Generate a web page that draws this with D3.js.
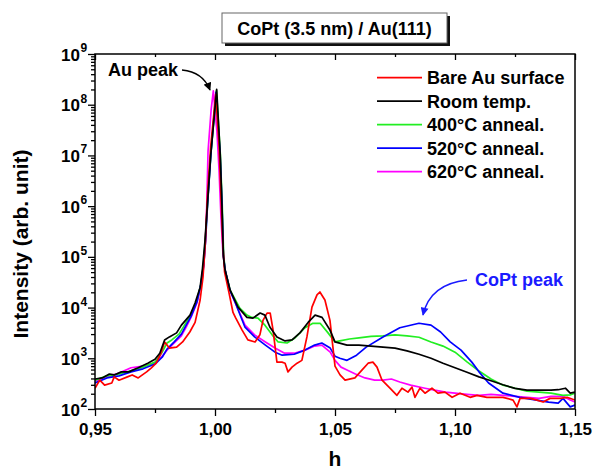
<!DOCTYPE html>
<html lang="en">
<head>
<meta charset="utf-8" />
<title>CoPt (3.5 nm) / Au(111)</title>
<script src="https://d3js.org/d3.v7.min.js"></script>
<style>
  body { margin: 0; background: #fff; }
  text { font-family: "Liberation Sans", Arial, sans-serif; font-weight: bold; fill: #000; }
  .curve { fill: none; stroke-width: 1.7; stroke-linejoin: round; }
  .axis path.domain { display: none; }
  .axis line { stroke: #000; stroke-width: 1.3; }
</style>
</head>
<body>
<svg width="595" height="473"></svg>
<script>
// ---- data: [h, intensity] ----
const bareAu = [
  [0.950,257],[0.952,370],[0.954,295],[0.957,325],[0.958,430],[0.960,370],[0.9635,430],[0.9655,470],
  [0.968,410],[0.9715,540],[0.9735,650],[0.9755,800],[0.9775,1260],[0.979,2100],[0.981,1590],[0.984,1660],
  [0.9865,2100],[0.9895,3300],[0.9917,5100],[0.9938,14100],[0.9950,40000],[0.9960,2e5],[0.9968,1.5e6],
  [0.9982,1.5e7],[1.0003,1.6e8],[1.0017,1.5e7],[1.0025,1.5e6],[1.0032,2e5],[1.0040,5e4],[1.0058,20000],
  [1.0075,8000],[1.0085,6400],[1.0113,3600],[1.0137,2300],[1.0167,2100],[1.0187,2900],[1.0200,5600],
  [1.0217,7800],[1.0230,7800],[1.0242,3600],[1.0258,840],[1.0279,840],[1.0292,800],[1.0304,540],
  [1.0321,670],[1.0342,800],[1.0362,910],[1.0383,2640],[1.0404,10200],[1.0425,17800],[1.0437,20300],
  [1.0458,14100],[1.0479,5600],[1.0500,700],[1.0521,470],[1.0542,370],[1.0583,410],[1.0613,590],
  [1.0638,800],[1.0658,840],[1.0675,670],[1.0696,370],[1.0729,257],[1.0758,186],[1.0779,257],
  [1.0804,215],[1.0821,270],[1.0833,170],[1.0854,257],[1.0875,205],[1.0904,257],[1.0929,205],
  [1.0958,215],[1.0988,170],[1.1021,205],[1.1063,170],[1.1092,186],[1.1133,170],[1.1200,170],
  [1.1242,150],[1.1258,110],[1.1271,162],[1.1313,162],[1.1342,150],[1.1367,137],[1.1396,162],
  [1.1438,162],[1.1467,170],[1.1500,150]
];

const roomTemp = [
  [0.950,390],[0.953,410],[0.956,490],[0.958,470],[0.961,540],[0.964,540],[0.968,650],[0.972,800],
  [0.975,955],[0.977,1260],[0.979,2300],[0.981,2640],[0.984,3170],[0.986,4500],[0.9896,7100],
  [0.9917,12300],[0.9938,25000],[0.9948,60000],[0.9958,2e5],[0.9968,1e6],[0.9982,1e7],[1.0007,2e8],
  [1.0022,1e7],[1.0029,1e6],[1.0035,1e5],[1.0042,5.5e4],[1.0063,2.2e4],[1.0096,10200],[1.0133,6400],
  [1.0158,6200],[1.0188,7800],[1.0208,7100],[1.0229,4100],[1.0258,2640],[1.0292,2200],[1.0321,2300],
  [1.0354,3170],[1.0388,5100],[1.0417,7100],[1.0446,6400],[1.0479,3600],[1.0500,2100],[1.055,1820],
  [1.060,1820],[1.065,1740],[1.070,1660],[1.075,1590],[1.080,1400],[1.085,1200],[1.090,1000],
  [1.095,800],[1.100,650],[1.105,530],[1.110,430],[1.115,360],[1.120,300],[1.125,255],[1.130,235],
  [1.135,235],[1.140,235],[1.143,240],[1.146,257],[1.148,205],[1.150,215]
];

const anneal400 = [
  [0.950,370],[0.955,450],[0.960,490],[0.965,565],[0.970,670],[0.975,840],[0.978,1320],[0.980,2000],
  [0.982,2300],[0.985,3000],[0.988,5100],[0.9905,8000],[0.9925,14000],[0.9942,30000],[0.9952,70000],
  [0.9960,2.2e5],[0.9969,1.1e6],[0.9983,1.1e7],[1.0006,1.9e8],[1.0022,1.1e7],[1.0030,1.1e6],
  [1.0036,1.1e5],[1.0042,5.5e4],[1.0063,22100],[1.0104,9600],[1.0133,7100],[1.0154,6400],
  [1.0179,6200],[1.0208,4500],[1.0238,2900],[1.0263,2100],[1.0300,2000],[1.0333,2520],[1.0375,4000],
  [1.0408,4900],[1.0438,4900],[1.0471,3170],[1.0500,2100],[1.052,2200],[1.056,2400],[1.060,2520],
  [1.065,2700],[1.070,2770],[1.075,2900],[1.080,2770],[1.085,2600],[1.090,2100],[1.095,1740],
  [1.100,1320],[1.105,850],[1.110,560],[1.115,390],[1.120,295],[1.125,257],[1.130,225],[1.135,215],
  [1.140,205],[1.145,186],[1.148,190],[1.150,205]
];

const anneal520 = [
  [0.950,325],[0.955,410],[0.960,450],[0.965,540],[0.970,620],[0.975,770],[0.978,1050],[0.980,1520],
  [0.983,2100],[0.986,3000],[0.988,4500],[0.990,6700],[0.9925,13000],[0.9942,30000],[0.9953,70000],
  [0.9961,2.2e5],[0.9969,1.1e6],[0.9983,1.1e7],[1.0004,1.75e8],[1.0021,1.1e7],[1.0029,1.1e6],
  [1.0035,1.1e5],[1.0042,5.5e4],[1.0062,2.2e4],[1.0085,12300],[1.0125,4100],[1.0165,2640],
  [1.021,1820],[1.025,1320],[1.028,1150],[1.033,1200],[1.0375,1450],[1.0415,1820],[1.0445,2000],
  [1.048,1590],[1.050,1100],[1.052,1000],[1.055,910],[1.059,1150],[1.063,1660],[1.070,2640],
  [1.077,4000],[1.085,4900],[1.090,4500],[1.094,3300],[1.098,2100],[1.1025,1450],[1.107,840],
  [1.110,540],[1.114,325],[1.120,205],[1.127,170],[1.134,150],[1.139,137],[1.143,131],[1.145,162],
  [1.148,110],[1.150,120]
];

const anneal620 = [
  [0.950,355],[0.955,430],[0.960,510],[0.965,650],[0.970,700],[0.975,800],[0.978,1100],[0.980,1450],
  [0.983,2000],[0.986,2770],[0.988,4100],[0.990,6400],[0.9925,12500],[0.9942,28000],[0.9953,65000],
  [0.9960,2e5],[0.9965,8e5],[0.9971,1.2e7],[0.9984,8e7],[0.9993,1.87e8],[1.0008,3e7],
  [1.0017,5e6],[1.0025,6e5],[1.0033,1.2e5],[1.0042,5.5e4],[1.0062,2.2e4],[1.0085,12300],
  [1.0125,4500],[1.0165,2900],[1.021,2100],[1.025,1590],[1.029,1260],[1.033,1260],[1.0375,1450],
  [1.0415,1740],[1.0445,1820],[1.048,1320],[1.050,910],[1.0525,670],[1.055,590],[1.0585,490],
  [1.0625,410],[1.0665,370],[1.070,370],[1.0735,390],[1.077,340],[1.0815,295],[1.0875,257],
  [1.0915,235],[1.096,215],[1.100,205],[1.105,195],[1.110,186],[1.115,195],[1.120,186],[1.125,178],
  [1.130,170],[1.135,162],[1.140,178],[1.145,178],[1.148,150],[1.150,137]
];

const seriesNames = ["Bare Au surface", "Room temp.", "400°C anneal.", "520°C anneal.", "620°C anneal."];
const seriesColors = ["#ff0000", "#000000", "#22ee22", "#0000ff", "#ff00ff"];
const seriesData = [bareAu, roomTemp, anneal400, anneal520, anneal620];
const drawOrder = [4, 2, 3, 0, 1];

const xMajor = [0.95, 1.00, 1.05, 1.10, 1.15];
const xMinor = [0.975, 1.025, 1.075, 1.125];
const yDecades = [2, 3, 4, 5, 6, 7, 8, 9];

const svg = d3.select("svg");
const plot = { left: 95, right: 575, top: 54, bottom: 409 };

const x = d3.scaleLinear().domain([0.95, 1.15]).range([plot.left, plot.right]);
const y = d3.scaleLog().domain([1e2, 1e9]).range([plot.bottom, plot.top]);

// title box with shadow
svg.append("rect").attr("x", 225).attr("y", 16).attr("width", 225).attr("height", 30).attr("fill", "#111");
svg.append("rect").attr("x", 222).attr("y", 13).attr("width", 225).attr("height", 30)
  .attr("fill", "#fff").attr("stroke", "#666").attr("stroke-width", 1);
svg.append("text").attr("x", 334.5).attr("y", 34.5).attr("text-anchor", "middle")
  .style("font-size", "18px").text("CoPt (3.5 nm) / Au(111)");

// curves
svg.append("defs").append("clipPath").attr("id", "plotclip")
  .append("rect").attr("x", plot.left).attr("y", plot.top)
  .attr("width", plot.right - plot.left).attr("height", plot.bottom - plot.top);

const line = d3.line().x(d => x(d[0])).y(d => y(d[1]));
svg.append("g").attr("clip-path", "url(#plotclip)")
  .selectAll("path")
  .data(drawOrder)
  .join("path")
  .attr("class", "curve")
  .attr("stroke", i => seriesColors[i])
  .attr("d", i => line(seriesData[i]));

// bottom axis
const fmt = d => d.toFixed(2).replace(".", ",");
svg.append("g").attr("class", "axis").attr("transform", `translate(0,${plot.bottom})`)
  .call(d3.axisBottom(x).tickValues(xMajor).tickSize(7).tickPadding(7).tickFormat(fmt))
  .call(g => g.selectAll("text").style("font-size", "17px").attr("fill", "#000"));
svg.append("g").attr("class", "axis").attr("transform", `translate(0,${plot.bottom})`)
  .call(d3.axisBottom(x).tickValues(xMinor).tickSize(4).tickFormat(""));

// top axis (ticks inward)
svg.append("g").attr("class", "axis").attr("transform", `translate(0,${plot.top})`)
  .call(d3.axisBottom(x).tickValues(xMajor).tickSize(6).tickFormat(""));
svg.append("g").attr("class", "axis").attr("transform", `translate(0,${plot.top})`)
  .call(d3.axisBottom(x).tickValues(xMinor).tickSize(3).tickFormat(""));

// left axis
const yMinor = [];
yDecades.slice(0, -1).forEach(k => { for (let m = 2; m <= 9; m++) yMinor.push(m * Math.pow(10, k)); });
svg.append("g").attr("class", "axis").attr("transform", `translate(${plot.left},0)`)
  .call(d3.axisLeft(y).tickValues(yDecades.map(k => Math.pow(10, k))).tickSize(7).tickFormat(""));
svg.append("g").attr("class", "axis").attr("transform", `translate(${plot.left},0)`)
  .call(d3.axisLeft(y).tickValues(yMinor).tickSize(4).tickFormat(""));

const yLab = svg.append("g").selectAll("g").data(yDecades).join("g");
yLab.append("text").attr("x", 80).attr("y", k => y(Math.pow(10, k)) + 6.5)
  .attr("text-anchor", "end").style("font-size", "17px").text("10");
yLab.append("text").attr("x", 80.5).attr("y", k => y(Math.pow(10, k)) - 2)
  .style("font-size", "12px").text(k => k);

// frame
svg.append("rect").attr("x", plot.left).attr("y", plot.top)
  .attr("width", plot.right - plot.left).attr("height", plot.bottom - plot.top)
  .attr("fill", "none").attr("stroke", "#000").attr("stroke-width", 1.5);

// axis titles
svg.append("text").attr("x", 335).attr("y", 466).attr("text-anchor", "middle")
  .style("font-size", "21px").text("h");
svg.append("text").attr("transform", "translate(28,244) rotate(-90)").attr("text-anchor", "middle")
  .style("font-size", "21px").text("Intensity (arb. unit)");

// legend
const leg = svg.append("g").selectAll("g").data(seriesNames).join("g")
  .attr("transform", (d, i) => `translate(0,${77.7 + i * 23.5})`);
leg.append("line").attr("x1", 377).attr("x2", 422).attr("y1", 0).attr("y2", 0)
  .attr("stroke", (d, i) => seriesColors[i]).attr("stroke-width", 1.7);
leg.append("text").attr("x", 427).attr("y", 6.5).style("font-size", "18px").text(d => d);

// annotations
const defs = svg.select("defs");
[["arrBlack", "#000"], ["arrBlue", "#1a1aff"]].forEach(([id, c]) => {
  defs.append("marker").attr("id", id).attr("viewBox", "0 0 10 10").attr("refX", 9).attr("refY", 5)
    .attr("markerWidth", 9).attr("markerHeight", 8).attr("markerUnits", "userSpaceOnUse")
    .attr("orient", "auto")
    .append("path").attr("d", "M0,0 L10,5 L0,10 Z").attr("fill", c);
});

svg.append("text").attr("x", 108).attr("y", 76).style("font-size", "18px").text("Au peak");
svg.append("path").attr("d", "M182,70 Q203,72 210,90").attr("fill", "none")
  .attr("stroke", "#000").attr("stroke-width", 1.3).attr("marker-end", "url(#arrBlack)");

svg.append("text").attr("x", 475).attr("y", 286).style("font-size", "18px")
  .style("fill", "#1a1aff").text("CoPt peak");
svg.append("path").attr("d", "M467,280 Q430,284 423,315").attr("fill", "none")
  .attr("stroke", "#1a1aff").attr("stroke-width", 1.5).attr("marker-end", "url(#arrBlue)");
</script>
</body>
</html>
